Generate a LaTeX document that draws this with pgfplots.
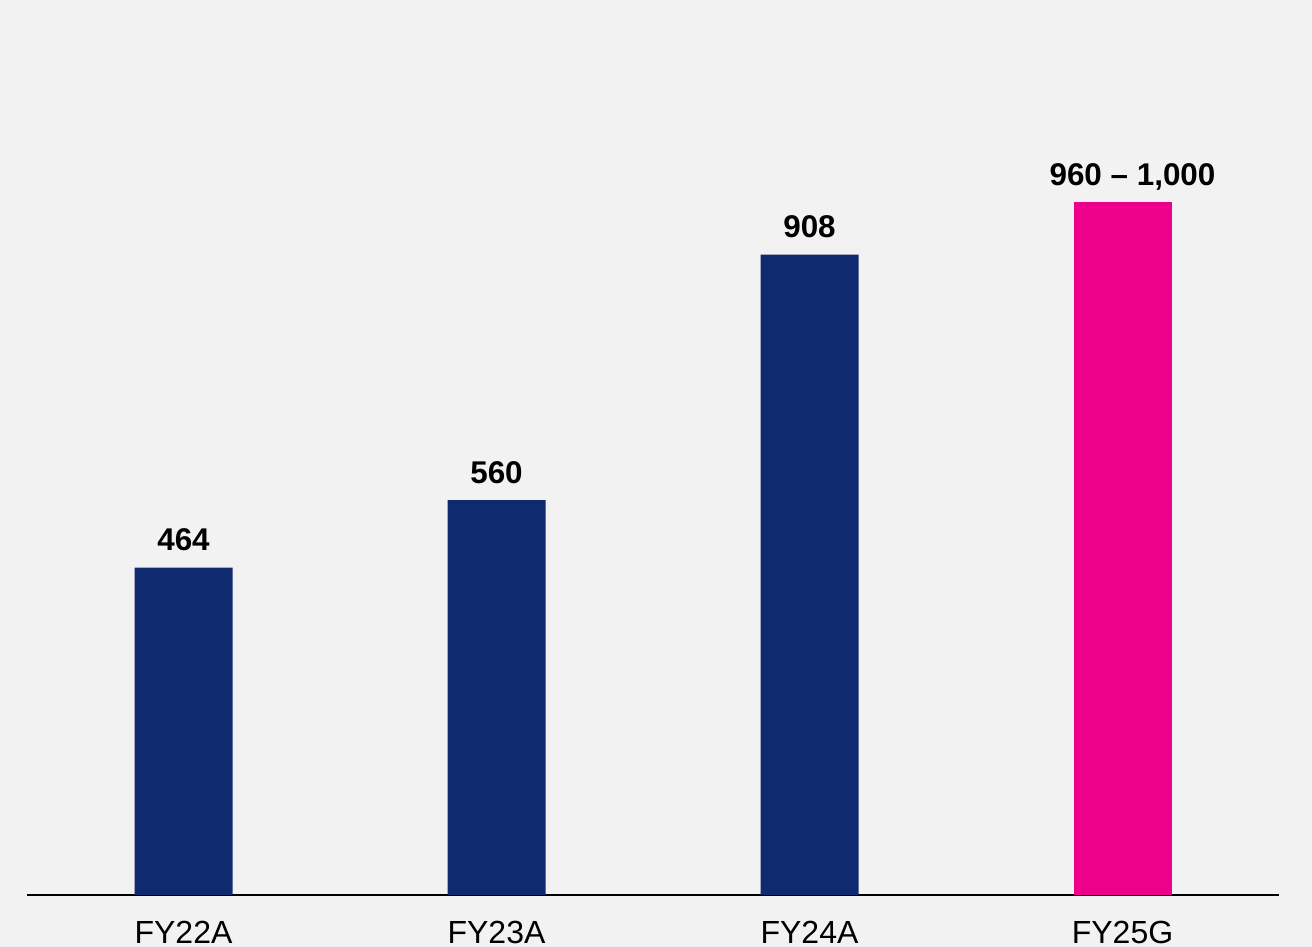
\documentclass[border=0pt]{standalone}
\usepackage{pgfplots}
\pgfplotsset{compat=1.18}
\usepackage{fontspec}
\setmainfont{Liberation Sans}

\definecolor{bgcol}{HTML}{F2F2F2}
\definecolor{navybar}{HTML}{102A6F}
\definecolor{pinkbar}{HTML}{EC008C}

\begin{document}
\begin{tikzpicture}
% page area: 1312 x 947 px at 0.5pt per px
\fill[bgcol] (-13.5pt,-26pt) rectangle (642.5pt,447.5pt);
\useasboundingbox (-13.5pt,-26pt) rectangle (642.5pt,447.5pt);
\begin{axis}[
    at={(0,0)}, anchor=south west,
    scale only axis,
    width=626pt, height=447.5pt,
    ybar, bar width=49pt, bar shift=0pt,
    xmin=-0.5, xmax=3.5,
    ymin=0, ymax=1269,
    axis x line*=bottom,
    axis y line=none,
    x axis line style={black, line width=1pt},
    xtick={0,1,2,3},
    xticklabels={FY22A,FY23A,FY24A,FY25G},
    major tick length=0pt,
    xticklabel style={anchor=base, yshift=-24.5pt, font=\fontsize{16}{19}\selectfont},
    point meta=explicit symbolic,
    nodes near coords,
    nodes near coords style={anchor=base, yshift=8.5pt, inner sep=0pt,
        font=\fontsize{15.7}{19}\selectfont\bfseries},
]
\addplot[fill=navybar, draw=none] coordinates {
    (0,464) [464]
    (1,560) [560]
    (2,908) [908]
};
\addplot[fill=pinkbar, draw=none,
    nodes near coords style={xshift=5pt}] coordinates {
    (3,982) [{960 \textendash{} 1,000}]
};
\end{axis}
\end{tikzpicture}
\end{document}
